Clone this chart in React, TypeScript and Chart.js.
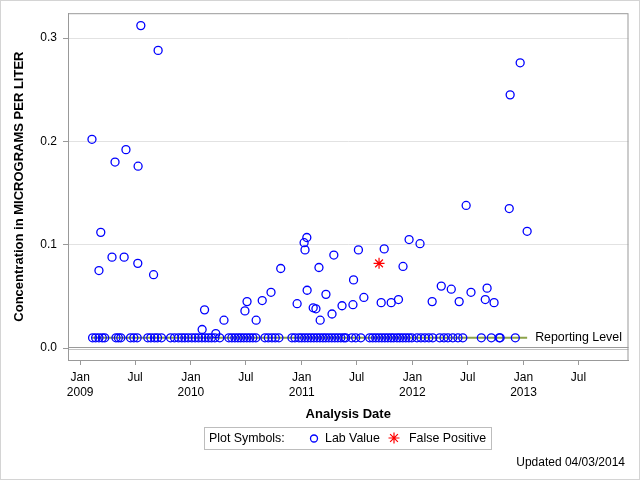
import React, { useEffect, useRef } from "react";
import { Chart, registerables } from "chart.js";

Chart.register(...registerables);

const FONT = "'Liberation Sans', Arial, Helvetica, sans-serif";

// Detected lab values (above the reporting level)
const detectDates = [
  "2009-02-09", "2009-03-04", "2009-03-10", "2009-04-16", "2009-04-26", "2009-05-26",
  "2009-06-01", "2009-07-10", "2009-07-11", "2009-07-20", "2009-08-31", "2009-09-15",
  "2010-02-07", "2010-02-15", "2010-03-24", "2010-04-20", "2010-06-28", "2010-07-05",
  "2010-08-04", "2010-08-24", "2010-09-22", "2010-10-24", "2010-12-17",
  "2011-01-09", "2011-01-12", "2011-01-18", "2011-01-19", "2011-02-08", "2011-02-17",
  "2011-02-27", "2011-03-03", "2011-03-22", "2011-04-11", "2011-04-17", "2011-05-14",
  "2011-06-19", "2011-06-21", "2011-07-07", "2011-07-25", "2011-09-20", "2011-09-30",
  "2011-10-23", "2011-11-16", "2011-12-01", "2011-12-21",
  "2012-01-26", "2012-03-06", "2012-04-05", "2012-05-08", "2012-06-03", "2012-06-26",
  "2012-07-12", "2012-08-28", "2012-09-03", "2012-09-26", "2012-11-15", "2012-11-18",
  "2012-12-21", "2013-01-13",
];
const detectValues = [
  0.202, 0.075, 0.112, 0.088, 0.180, 0.088,
  0.192, 0.082, 0.176, 0.312, 0.071, 0.288,
  0.018, 0.037, 0.014, 0.027, 0.036, 0.045,
  0.027, 0.046, 0.054, 0.077, 0.043,
  0.102, 0.095, 0.107, 0.056, 0.039, 0.038,
  0.078, 0.027, 0.052, 0.033, 0.090, 0.041,
  0.042, 0.066, 0.095, 0.049, 0.044, 0.096,
  0.044, 0.047, 0.079, 0.105,
  0.101, 0.045, 0.060, 0.057, 0.045, 0.138,
  0.054, 0.047, 0.058, 0.044, 0.135, 0.245,
  0.276, 0.113,
];

// Lab values plotted at the reporting level
const REPORTING_LEVEL = 0.01;
const reportingDates = [
  "2009-02-11", "2009-02-21", "2009-03-04", "2009-03-15", "2009-03-23",
  "2009-04-29", "2009-05-07", "2009-05-15",
  "2009-06-16", "2009-06-27", "2009-07-08",
  "2009-08-12", "2009-08-22", "2009-09-03", "2009-09-13", "2009-09-26",
  "2009-10-26", "2009-11-08", "2009-11-21", "2009-12-02", "2009-12-12", "2009-12-23",
  "2010-01-04", "2010-01-15", "2010-01-26", "2010-02-06", "2010-02-17", "2010-02-28",
  "2010-03-10", "2010-03-21", "2010-04-06",
  "2010-05-06", "2010-05-16", "2010-05-26", "2010-06-05", "2010-06-14", "2010-06-24",
  "2010-07-04", "2010-07-14", "2010-07-24", "2010-08-03",
  "2010-09-02", "2010-09-13", "2010-09-25", "2010-10-06", "2010-10-18",
  "2010-11-30", "2010-12-10", "2010-12-23",
  "2011-01-01", "2011-01-11", "2011-01-21", "2011-01-31", "2011-02-10", "2011-02-20",
  "2011-03-02", "2011-03-12", "2011-03-21", "2011-03-31", "2011-04-10", "2011-04-20",
  "2011-04-30", "2011-05-10", "2011-05-20", "2011-05-26",
  "2011-06-15", "2011-06-28", "2011-07-15",
  "2011-08-13", "2011-08-23", "2011-09-02", "2011-09-12", "2011-09-22",
  "2011-10-02", "2011-10-12", "2011-10-22", "2011-10-31", "2011-11-11", "2011-11-20",
  "2011-11-30", "2011-12-10", "2011-12-20", "2011-12-30",
  "2012-01-16", "2012-01-29", "2012-02-11", "2012-02-24", "2012-03-08", "2012-03-31",
  "2012-04-14", "2012-04-27", "2012-05-13", "2012-05-30", "2012-06-15",
  "2012-08-15", "2012-09-17", "2012-10-13", "2012-10-16", "2012-12-05",
];

// False positive
const falsePositiveDates = ["2011-09-13"];
const falsePositiveValues = [0.082];

// Reporting level line extent
const reportingLineDates = ["2009-02-09", "2013-01-13"];

// Axis
const xTickDates = [
  "2009-01-01", "2009-07-01", "2010-01-01", "2010-07-01", "2011-01-01",
  "2011-07-01", "2012-01-01", "2012-07-01", "2013-01-01", "2013-07-01",
];
const xTickLabels: (string | string[])[] = [
  ["Jan", "2009"], "Jul", ["Jan", "2010"], "Jul", ["Jan", "2011"],
  "Jul", ["Jan", "2012"], "Jul", ["Jan", "2013"], "Jul",
];
const yTickValues = [0, 0.1, 0.2, 0.3];
const xRangeDates = ["2008-11-22", "2013-12-13"];
const yRange = [-0.0115, 0.324];

const ORIGIN = Date.UTC(2009, 0, 1);
const toDay = (s: string) => (Date.parse(s) - ORIGIN) / 86400000;

const decorPlugin = {
  id: "decor",
  beforeDatasetsDraw(chart: any) {
    const { ctx, chartArea, scales } = chart;
    const y0 = Math.round(scales.y.getPixelForValue(0));
    ctx.save();
    ctx.fillStyle = "#9a9a9a";
    ctx.fillRect(chartArea.left, y0 - 1, chartArea.right - chartArea.left, 1);
    ctx.fillStyle = "#c4c4c4";
    ctx.fillRect(chartArea.left, y0 + 1, chartArea.right - chartArea.left, 1);
    ctx.restore();
  },
  afterDraw(chart: any) {
    const { ctx, chartArea, scales } = chart;
    ctx.save();
    // plot frame
    ctx.strokeStyle = "#999";
    ctx.lineWidth = 1;
    ctx.strokeRect(chartArea.left + 0.5, chartArea.top + 0.5,
      chartArea.right - chartArea.left - 1, chartArea.bottom - chartArea.top);
    // outer border
    ctx.strokeStyle = "#d4d4d4";
    ctx.strokeRect(0.5, 0.5, 639, 479);

    ctx.fillStyle = "#000";
    // reporting level label
    ctx.font = `12.4px ${FONT}`;
    ctx.textAlign = "left";
    ctx.textBaseline = "middle";
    const xEnd = scales.x.getPixelForValue(toDay(reportingLineDates[1]));
    const yRl = scales.y.getPixelForValue(REPORTING_LEVEL);
    ctx.fillText("Reporting Level", xEnd + 8, yRl);

    // axis titles
    ctx.font = `bold 13px ${FONT}`;
    ctx.textAlign = "center";
    ctx.fillText("Analysis Date", (chartArea.left + chartArea.right) / 2, 414);
    ctx.save();
    ctx.translate(19, (chartArea.top + chartArea.bottom) / 2);
    ctx.rotate(-Math.PI / 2);
    ctx.fillText("Concentration in MICROGRAMS PER LITER", 0, 0);
    ctx.restore();

    // legend box
    ctx.strokeStyle = "#bdbdbd";
    ctx.lineWidth = 1;
    ctx.strokeRect(204.5, 427.5, 287, 22);
    ctx.font = `12.4px ${FONT}`;
    ctx.textAlign = "left";
    ctx.fillStyle = "#000";
    ctx.fillText("Plot Symbols:", 209, 439);
    ctx.strokeStyle = "#0000ff";
    ctx.lineWidth = 1.3;
    ctx.beginPath();
    ctx.arc(314, 438.5, 3.5, 0, Math.PI * 2);
    ctx.stroke();
    ctx.fillText("Lab Value", 325, 439);
    ctx.strokeStyle = "#ff0000";
    ctx.lineWidth = 1.2;
    ctx.beginPath();
    const sx = 394, sy = 438, r = 5.5;
    for (let i = 0; i < 4; i++) {
      const a = (i * Math.PI) / 4;
      ctx.moveTo(sx - Math.cos(a) * r, sy - Math.sin(a) * r);
      ctx.lineTo(sx + Math.cos(a) * r, sy + Math.sin(a) * r);
    }
    ctx.stroke();
    ctx.fillText("False Positive", 409, 439);

    // footnote
    ctx.font = `12px ${FONT}`;
    ctx.textAlign = "right";
    ctx.fillText("Updated 04/03/2014", 625, 463);
    ctx.restore();
  },
};

export default function App() {
  const ref = useRef<HTMLCanvasElement>(null);

  useEffect(() => {
    Chart.defaults.font.family = FONT;
    Chart.defaults.font.size = 12;
    Chart.defaults.color = "#000";

    const labPoints = [
      ...detectDates.map((d, i) => ({ x: toDay(d), y: detectValues[i] })),
      ...reportingDates.map((d) => ({ x: toDay(d), y: REPORTING_LEVEL })),
    ];
    const fpPoints = falsePositiveDates.map((d, i) => ({ x: toDay(d), y: falsePositiveValues[i] }));
    const rlLine = reportingLineDates.map((d) => ({ x: toDay(d), y: REPORTING_LEVEL }));

    const chart = new Chart(ref.current!, {
      type: "scatter",
      data: {
        datasets: [
          {
            type: "line",
            label: "Reporting Level",
            data: rlLine,
            borderColor: "#8da34a",
            borderWidth: 2,
            pointRadius: 0,
            showLine: true,
            fill: false,
            order: 3,
          } as any,
          {
            label: "Lab Value",
            data: labPoints,
            pointStyle: "circle",
            pointRadius: 4,
            pointBorderWidth: 1.3,
            borderColor: "#0000ff",
            backgroundColor: "rgba(0,0,0,0)",
            order: 2,
          },
          {
            label: "False Positive",
            data: fpPoints,
            pointStyle: "star",
            pointRadius: 5.5,
            pointBorderWidth: 1.2,
            borderColor: "#ff0000",
            backgroundColor: "#ff0000",
            order: 1,
          },
        ],
      },
      options: {
        responsive: false,
        animation: false,
        devicePixelRatio: 1,
        layout: { padding: { left: 0, top: 11, right: 11.5, bottom: 0 } },
        plugins: { legend: { display: false }, tooltip: { enabled: false } },
        scales: {
          x: {
            type: "linear",
            position: "bottom",
            min: toDay(xRangeDates[0]),
            max: toDay(xRangeDates[1]),
            afterBuildTicks: (scale: any) => {
              scale.ticks = xTickDates.map((d) => ({ value: toDay(d) }));
            },
            afterFit: (scale: any) => {
              scale.height = 120;
            },
            ticks: {
              autoSkip: false,
              maxRotation: 0,
              padding: 5,
              font: { size: 12, lineHeight: 1.25 },
              color: "#000",
              callback: (_v: any, i: number) => xTickLabels[i],
            },
            grid: { drawOnChartArea: false, tickLength: 5, tickColor: "#999", color: "#999" },
            border: { display: true, color: "#999" },
          },
          y: {
            type: "linear",
            min: yRange[0],
            max: yRange[1],
            afterBuildTicks: (scale: any) => {
              scale.ticks = yTickValues.map((v) => ({ value: v }));
            },
            afterFit: (scale: any) => {
              scale.width = 68;
            },
            ticks: {
              padding: 6,
              font: { size: 12 },
              color: "#000",
              callback: (v: any) => Number(v).toFixed(1),
            },
            grid: {
              tickLength: 5,
              tickColor: "#999",
              color: (c: any) => (c.tick && c.tick.value === 0 ? "rgba(0,0,0,0)" : "#e2e2e2"),
            },
            border: { display: true, color: "#999" },
          },
        },
      },
      plugins: [decorPlugin],
    } as any);

    return () => chart.destroy();
  }, []);

  return (
    <div style={{ position: "fixed", left: 0, top: 0, width: 640, height: 480, background: "#fff" }}>
      <canvas ref={ref} width={640} height={480} style={{ display: "block" }} />
    </div>
  );
}
